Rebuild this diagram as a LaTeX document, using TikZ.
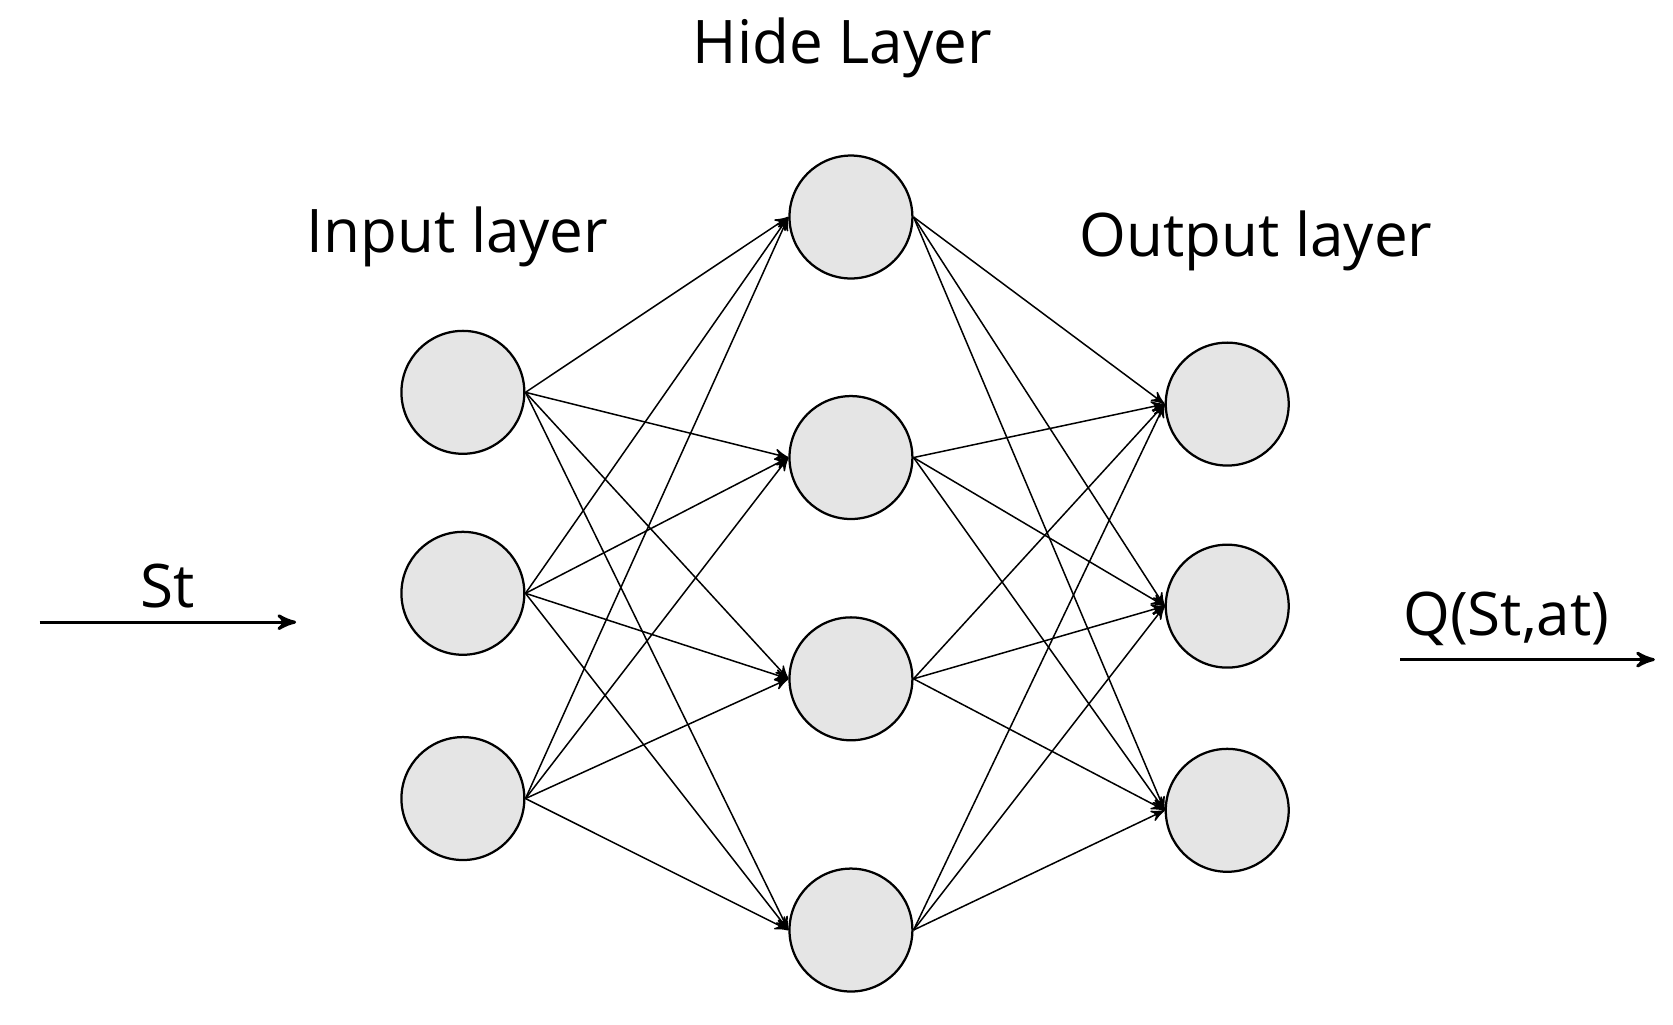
\documentclass[tikz,border=0pt]{standalone}
\usepackage{fontspec}
\setmainfont{Open Sans}
\usetikzlibrary{arrows}
\begin{document}
\begin{tikzpicture}[x=1cm,y=-1cm,->,>=stealth', line width=0.4pt,
  neuron/.style={circle, draw, fill=gray!20, minimum size=1.15cm, inner sep=0pt, line width=0.6pt},
  title/.style={font=\fontsize{16}{19}\selectfont}]
\useasboundingbox (0,0) rectangle (15.65,9.58);
% layers
\foreach \y [count=\i] in {3.67,5.55,7.47}
  \node [neuron] (in\i) at (4.33,\y) {};
\foreach \y [count=\i] in {2.03,4.28,6.35,8.70}
  \node [neuron] (hid\i) at (7.96,\y) {};
\foreach \y [count=\i] in {3.78,5.67,7.58}
  \node [neuron] (out\i) at (11.48,\y) {};
% connections
\foreach \i in {1,2,3}
  \foreach \j in {1,2,3,4}
    \path (in\i.east) edge (hid\j.west);
\foreach \j in {1,2,3,4}
  \foreach \k in {1,2,3}
    \path (hid\j.east) edge (out\k.west);
% labels
\node [title] (hide) at (7.88,0.45) {Hide Layer};
\node [title] (inlab) at (4.28,2.22) {Input layer};
\node [title] (outlab) at (11.75,2.25) {Output layer};
\coordinate (sa) at (0.37,5.82);
\coordinate (sb) at (2.77,5.82);
\draw [line width=0.8pt] (sa) -- node [title, above] {St} (sb);
\coordinate (qa) at (13.10,6.17);
\coordinate (qb) at (15.48,6.17);
\draw [line width=0.8pt] (qa) -- node [title, above, xshift=-0.2cm] {Q(St,at)} (qb);
\end{tikzpicture}
\end{document}
